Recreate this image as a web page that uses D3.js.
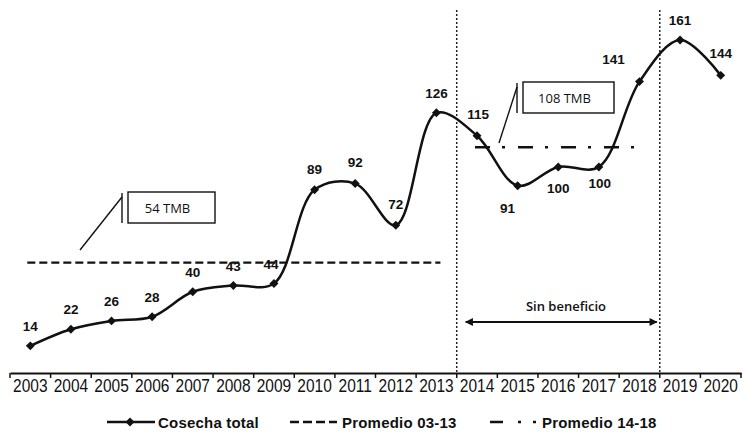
<!DOCTYPE html>
<meta charset="utf-8">
<script src="https://d3js.org/d3.v7.min.js"></script>
<style>
  body { margin: 0; background: #fff; }
  text { font-family: "Liberation Sans", Arial, sans-serif; fill: #111; }
</style>
<div id="my_dataviz"></div>
<script>

// data
var years = ["2003","2004","2005","2006","2007","2008","2009","2010","2011","2012",
             "2013","2014","2015","2016","2017","2018","2019","2020"];
var cosecha = [14, 22, 26, 28, 40, 43, 44, 89, 92, 72, 126, 115, 91, 100, 100, 141, 161, 144];
var promedio0313 = 54;
var promedio1418 = 108;
var callouts = ["54 TMB", "108 TMB"];

// where each value label sits relative to its point [dx, dy]
var labelPos = [[0,-15],[0,-15],[0,-15],[0,-15],[0,-15],[0,-15],[-3,-14],[0,-16],[0,-17],[0,-16],
                [0,-15],[1,-17],[-10,27],[0,26],[1,21],[-26,-18],[0,-15],[0,-17]];

var W = 745, H = 432;

var svg = d3.select("#my_dataviz")
  .append("svg")
    .attr("width", W)
    .attr("height", H);

var x = d3.scaleBand()
  .domain(years)
  .range([10, 741]);

var y = d3.scaleLinear()
  .domain([0, 161])
  .range([375, 40]);

function cx(yr) { return x(yr) + x.bandwidth() / 2; }

// X axis (labels drawn separately, they are a bit tall & narrow in the original)
var xAxis = svg.append("g")
  .attr("transform", "translate(0,373)")
  .call(d3.axisBottom(x).tickSize(0).tickFormat(""));
xAxis.select(".domain").attr("stroke", "#111").attr("stroke-width", 2);
xAxis.selectAll(".bt")
  .data(years.concat(["end"]))
  .enter().append("line")
    .attr("x1", function(d, i) { return 10 + i * x.step(); })
    .attr("x2", function(d, i) { return 10 + i * x.step(); })
    .attr("y1", 0).attr("y2", 5)
    .attr("stroke", "#111").attr("stroke-width", 1.5);

svg.selectAll(".yr")
  .data(years)
  .enter().append("text")
    .attr("transform", function(d) { return "translate(" + cx(d) + ",392) scale(1,1.15)"; })
    .attr("text-anchor", "middle")
    .style("font-size", "15.5px")
    .text(function(d) { return d; });

// vertical dotted separators
[["2013","2014"],["2018","2019"]].forEach(function(p) {
  var xx = x(p[1]);
  svg.append("line")
    .attr("x1", xx).attr("x2", xx)
    .attr("y1", 10).attr("y2", 373)
    .attr("stroke", "#222").attr("stroke-width", 1.5)
    .attr("stroke-dasharray", "2,2");
});

// average lines
svg.append("line")
  .attr("x1", cx("2003") - 3).attr("x2", cx("2013") + 4)
  .attr("y1", y(promedio0313)).attr("y2", y(promedio0313))
  .attr("stroke", "#111").attr("stroke-width", 2.3)
  .attr("stroke-dasharray", "8,4");

svg.append("line")
  .attr("x1", cx("2014") - 2).attr("x2", cx("2018") - 2)
  .attr("y1", y(promedio1418) - 3).attr("y2", y(promedio1418) - 3)
  .attr("stroke", "#111").attr("stroke-width", 2.5)
  .attr("stroke-dasharray", "15,12,3,13");

// main line
var line = d3.line()
  .x(function(d, i) { return cx(years[i]); })
  .y(function(d) { return y(d); })
  .curve(d3.curveCatmullRom.alpha(0.5));

svg.append("path")
  .datum(cosecha)
  .attr("fill", "none")
  .attr("stroke", "#111")
  .attr("stroke-width", 2.5)
  .attr("d", line);

var diamond = d3.symbol().type(d3.symbolSquare).size(40);
svg.selectAll(".pt")
  .data(cosecha)
  .enter().append("path")
    .attr("d", diamond)
    .attr("transform", function(d, i) { return "translate(" + cx(years[i]) + "," + y(d) + ") rotate(45)"; })
    .attr("fill", "#111");

svg.selectAll(".lbl")
  .data(cosecha)
  .enter().append("text")
    .attr("x", function(d, i) { return cx(years[i]) + labelPos[i][0]; })
    .attr("y", function(d, i) { return y(d) + labelPos[i][1]; })
    .attr("text-anchor", "middle")
    .style("font-size", "13.5px")
    .style("font-weight", "bold")
    .text(function(d) { return d; });

// callouts
function callout(bx, by, bw, bh, lx, ly, txt) {
  svg.append("rect")
    .attr("x", bx).attr("y", by).attr("width", bw).attr("height", bh)
    .attr("fill", "#fff").attr("stroke", "#111").attr("stroke-width", 1.4);
  svg.append("line")
    .attr("x1", bx - 6).attr("x2", bx - 6).attr("y1", by + 1).attr("y2", by + bh)
    .attr("stroke", "#111").attr("stroke-width", 1.4);
  svg.append("line")
    .attr("x1", bx - 6).attr("y1", by + 5).attr("x2", lx).attr("y2", ly)
    .attr("stroke", "#111").attr("stroke-width", 1.4);
  svg.append("text")
    .attr("x", bx + bw / 2 - 4).attr("y", by + bh / 2 + 5)
    .attr("text-anchor", "middle")
    .style("font-size", "13px")
    .style("font-family", "'Open Sans', 'DejaVu Sans', sans-serif")
    .text(txt);
}
callout(128, 192, 87, 31, 80, 250, callouts[0]);
callout(523, 82, 91, 31, 499, 143, callouts[1]);

// Sin beneficio arrow
var defs = svg.append("defs");
defs.append("marker")
  .attr("id", "arr")
  .attr("viewBox", "0 0 10 10")
  .attr("refX", 9).attr("refY", 5)
  .attr("markerUnits", "userSpaceOnUse")
  .attr("markerWidth", 10).attr("markerHeight", 8)
  .attr("orient", "auto-start-reverse")
  .append("path").attr("d", "M0,0 L10,5 L0,10 z").attr("fill", "#111");
svg.append("line")
  .attr("x1", x("2014") + 9).attr("x2", x("2019") - 3)
  .attr("y1", 322).attr("y2", 322)
  .attr("stroke", "#111").attr("stroke-width", 1.8)
  .attr("marker-start", "url(#arr)")
  .attr("marker-end", "url(#arr)");
svg.append("text")
  .attr("x", 566).attr("y", 311)
  .attr("text-anchor", "middle")
  .style("font-size", "13px")
  .style("font-weight", "600")
  .style("font-family", "'Open Sans', 'DejaVu Sans', sans-serif")
  .text("Sin beneficio");

// legend
var lg = svg.append("g").attr("transform", "translate(0,422)");
lg.append("line").attr("x1", 107).attr("x2", 155).attr("y1", 0).attr("y2", 0)
  .attr("stroke", "#111").attr("stroke-width", 2.5);
lg.append("path").attr("d", diamond).attr("transform", "translate(130,0) rotate(45)").attr("fill", "#111");
lg.append("text").attr("x", 158).attr("y", 5.5).style("font-size", "15px").style("font-weight", "bold")
  .style("letter-spacing", "0.2px")
  .text("Cosecha total");

lg.append("line").attr("x1", 290).attr("x2", 337).attr("y1", 0).attr("y2", 0)
  .attr("stroke", "#111").attr("stroke-width", 2.3).attr("stroke-dasharray", "9,4");
lg.append("text").attr("x", 342).attr("y", 5.5).style("font-size", "15px").style("font-weight", "bold")
  .style("letter-spacing", "0.2px")
  .text("Promedio 03-13");

lg.append("line").attr("x1", 490).attr("x2", 541).attr("y1", 0).attr("y2", 0)
  .attr("stroke", "#111").attr("stroke-width", 2.6).attr("stroke-dasharray", "13,15,3,12,3,20");
lg.append("text").attr("x", 542).attr("y", 5.5).style("font-size", "15px").style("font-weight", "bold")
  .style("letter-spacing", "0.2px")
  .text("Promedio 14-18");

</script>
